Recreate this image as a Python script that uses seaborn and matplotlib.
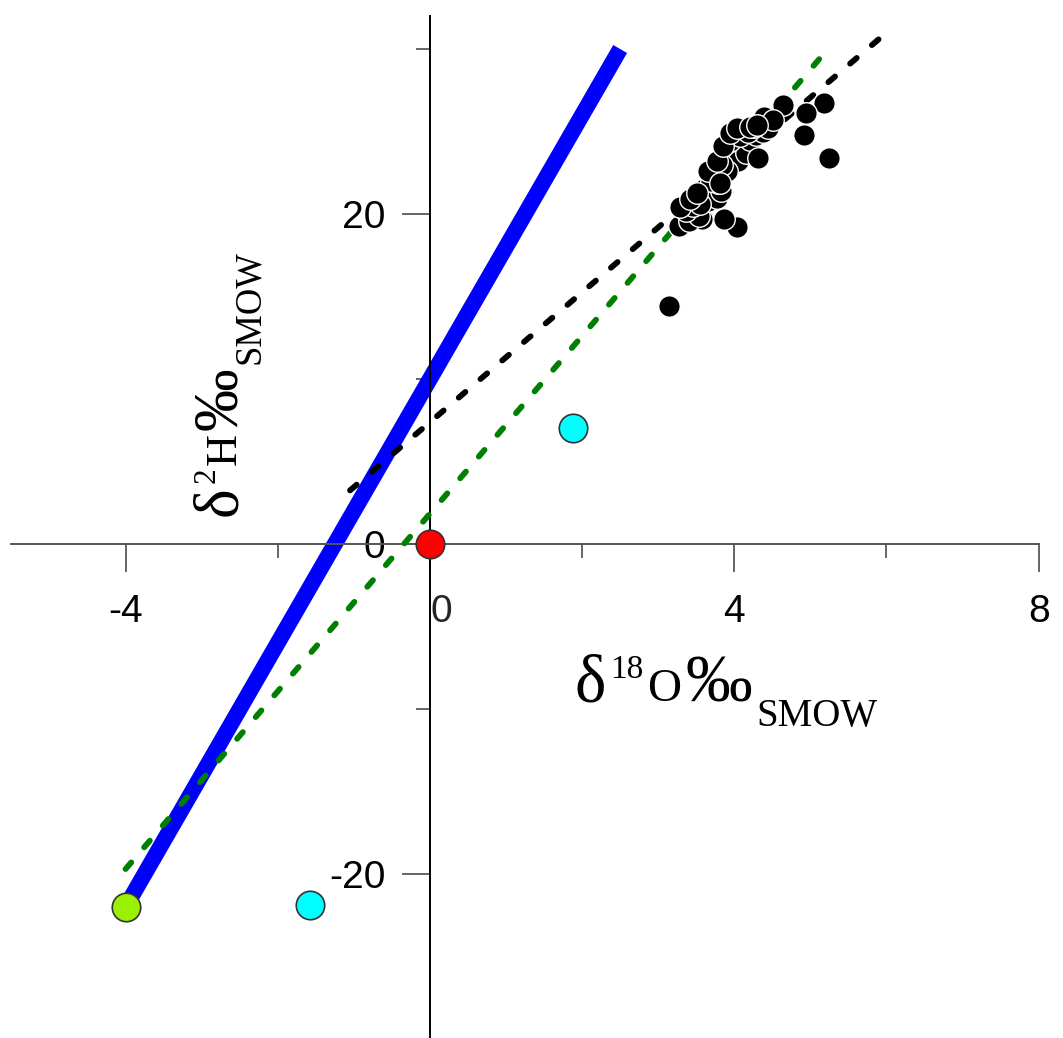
import matplotlib
matplotlib.use("Agg")
import numpy as np
import pandas as pd
import seaborn as sns
import matplotlib.pyplot as plt

sns.set_theme(style="white")
plt.rcParams['font.family'] = ['Liberation Sans', 'DejaVu Sans']
plt.rcParams['axes.unicode_minus'] = False
SERIF = ['Liberation Serif', 'DejaVu Serif']

# ---------------- data ----------------
sample_d18O = [3.14, 5.24, 5.18, 4.94, 4.92, 4.64, 4.39, 4.04, 3.87, 3.57,
               3.27, 3.40, 3.53, 3.49, 3.60, 3.69, 3.66, 3.77, 3.82, 3.79,
               3.88, 3.92, 3.99, 3.96, 4.03, 4.12, 4.05, 4.16, 4.21, 4.29,
               4.31, 4.38, 4.44, 4.51, 3.37, 3.46, 3.73, 3.90, 3.95, 4.08,
               4.18, 4.26, 3.55, 3.70, 3.84, 3.29, 3.42, 3.65, 3.77, 3.85,
               3.94, 4.03, 4.20, 4.30, 3.81, 3.51]
sample_d2H = [14.4, 23.4, 26.7, 26.1, 24.8, 26.6, 25.9, 19.2, 19.7, 19.7,
              19.3, 19.6, 19.9, 21.2, 21.5, 21.7, 20.8, 21.0, 21.4, 21.9,
              22.5, 22.9, 23.3, 23.8, 24.2, 24.1, 23.2, 23.7, 24.5, 24.8,
              23.4, 25.0, 25.2, 25.7, 20.2, 20.5, 22.1, 22.6, 24.4, 24.7,
              25.0, 25.3, 20.6, 22.0, 23.0, 20.4, 20.9, 22.6, 23.2, 24.1,
              24.9, 25.2, 25.3, 25.4, 21.9, 21.3]

smow_d18O = [0.0]
smow_d2H = [0.0]
green_d18O = [-4.0]
green_d2H = [-22.0]
cyan_d18O = [-1.57, 1.88]
cyan_d2H = [-21.9, 7.0]

gmwl_d18O = [-4.0, 2.5]
gmwl_d2H = [-22.0, 30.0]
local_d18O = [-1.05, 5.9]
local_d2H = [3.25, 30.6]
evap_d18O = [-4.0, 5.23]
evap_d2H = [-19.7, 30.0]

x_major = [-4, 0, 4, 8]
x_major_labels = ['-4', '', '4', '8']
x_minor = [-2, 2, 6]
y_major = [-20, 0, 20]
y_major_labels = ['-20', '0', '20']
y_minor = [-10, 10, 30]

xlabel_parts = [('δ', 'big'), ('18', 'sup'), ('O', 'main'), ('‰', 'big'),
                ('SMOW', 'sub')]
ylabel_parts = [('δ', 'big'), ('2', 'sup'), ('H', 'main'), ('‰', 'big'),
                ('SMOW', 'sub')]

# ---------------- figure ----------------
W, H = 1063, 1038
fig = plt.figure(figsize=(W / 100, H / 100), dpi=100)
fig.patch.set_facecolor('white')
ax = fig.add_axes([0, 0, 1, 1])
ax.set_facecolor('white')
ax.set_xlim(-5.65, 8.32)
ax.set_ylim(-29.94, 32.97)

sns.lineplot(x=gmwl_d18O, y=gmwl_d2H, color='#0000ff', linewidth=11.5,
             sort=False, estimator=None, ax=ax, zorder=2,
             solid_capstyle='butt')
sns.lineplot(x=evap_d18O, y=evap_d2H, color='#008000', linewidth=4.2,
             linestyle=(0, (1.5, 3.4)), dash_capstyle='round',
             sort=False, estimator=None, ax=ax, zorder=3)
sns.lineplot(x=local_d18O, y=local_d2H, color='black', linewidth=4.2,
             linestyle=(0, (1.5, 3.4)), dash_capstyle='round',
             sort=False, estimator=None, ax=ax, zorder=3)

sns.scatterplot(x=sample_d18O, y=sample_d2H, color='black', s=240,
                edgecolor='white', linewidth=1.0, ax=ax, zorder=4)
sns.scatterplot(x=cyan_d18O, y=cyan_d2H, color='#00ffff', s=420,
                edgecolor='#333333', linewidth=1.2, ax=ax, zorder=5)
sns.scatterplot(x=green_d18O, y=green_d2H, color='#99f000', s=420,
                edgecolor='#333333', linewidth=1.2, ax=ax, zorder=5,
                clip_on=False)
sns.scatterplot(x=smow_d18O, y=smow_d2H, color='#ff0000', s=420,
                edgecolor='#333333', linewidth=1.2, ax=ax, zorder=6,
                clip_on=False)

# axes through the origin
for s in ['top', 'right']:
    ax.spines[s].set_visible(False)
ax.spines['left'].set_position(('data', 0))
ax.spines['bottom'].set_position(('data', 0))
ax.spines['bottom'].set_bounds(-5.5, 8)
ax.spines['left'].set_bounds(-30, 32)
ax.spines['bottom'].set_color('#555555')
ax.spines['left'].set_color('#000000')
ax.spines['bottom'].set_linewidth(1.4)
ax.spines['left'].set_linewidth(1.4)

ax.set_xticks(x_major)
ax.set_xticklabels(x_major_labels)
ax.set_xticks(x_minor, minor=True)
ax.set_yticks(y_major)
ax.set_yticklabels(y_major_labels)
ax.set_yticks(y_minor, minor=True)
ax.tick_params(axis='both', which='both', bottom=True, left=True,
               top=False, right=False)
ax.tick_params(axis='both', which='major', direction='out', length=20,
               width=1.4, color='#666666', labelsize=28, labelcolor='black')
ax.tick_params(axis='both', which='minor', direction='out', length=10,
               width=1.4, color='#666666')
ax.tick_params(axis='x', which='major', pad=16)
ax.tick_params(axis='y', which='major', pad=12)
ax.annotate('0', xy=(0, 0), xycoords='data', xytext=(8, -36),
            textcoords='offset points', ha='center', va='top', fontsize=28)
ax.grid(False)

# ---------------- axis titles (serif, sub/superscripts) ----------------
SIZES = {'big': 48, 'main': 34, 'sup': 24, 'sub': 28}
SHIFT = {'big': 0, 'main': 0, 'sup': 23, 'sub': -25}   # px baseline shift


def rich_label(parts, center, base, rotation=0, gap=4, scale=1.0):
    r = fig.canvas.get_renderer()
    widths = []
    for s, kind in parts:
        t = fig.text(0, 0, s, fontsize=SIZES[kind] * scale, family=SERIF)
        widths.append(t.get_window_extent(r).width)
        t.remove()
    total = sum(widths) + gap * (len(parts) - 1)
    pos = center - total / 2
    for (s, kind), w in zip(parts, widths):
        shift = SHIFT[kind] * scale
        if rotation == 0:
            px, py = pos, base + shift
        else:
            px, py = base - shift, pos
        fig.text(px / W, py / H, s, fontsize=SIZES[kind] * scale,
                 family=SERIF, ha='left', va='baseline', rotation=rotation,
                 rotation_mode='anchor', color='black')
        pos += w + gap


rich_label(xlabel_parts, center=726, base=H - 701, rotation=0)
rich_label(ylabel_parts, center=H - 383, base=236, rotation=90, gap=3,
           scale=0.94)

fig.savefig('out.png', dpi=100, facecolor='white')
